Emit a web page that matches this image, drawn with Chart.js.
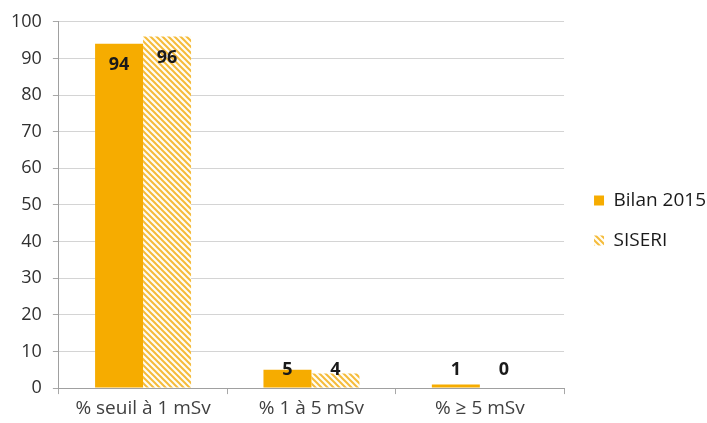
<!DOCTYPE html>
<html>
<head>
<meta charset="utf-8">
<script src="https://cdn.jsdelivr.net/npm/chart.js@4.4.0/dist/chart.umd.min.js"></script>
<style>
  html, body { margin: 0; padding: 0; background: #fff; }
  #wrap { width: 707px; height: 423px; }
</style>
</head>
<body>
<div id="wrap"><canvas id="myChart" width="707" height="423"></canvas></div>
<script>
  // categories and values
  var categories = ["% seuil à 1 mSv", "% 1 à 5 mSv", "% ≥ 5 mSv"];
  var bilan = [94, 5, 1];
  var siseri = [96, 4, 0];
  var seriesNames = ["Bilan 2015", "SISERI"];
  var yTicks = [0, 10, 20, 30, 40, 50, 60, 70, 80, 90, 100];

  var orange = "#F6AC00";

  // diagonal hatch for the second series
  function hatch() {
    var c = document.createElement("canvas");
    c.width = 6; c.height = 6;
    var g = c.getContext("2d");
    g.fillStyle = "#fffdf5";
    g.fillRect(0, 0, 6, 6);
    g.strokeStyle = "#F5BB3a";
    g.lineWidth = 2;
    g.beginPath();
    g.moveTo(-1, -1); g.lineTo(7, 7);
    g.moveTo(-4, 2); g.lineTo(2, 8);
    g.moveTo(2, -4); g.lineTo(8, 2);
    g.stroke();
    return g.createPattern(c, "repeat");
  }

  var font = "'Open Sans', sans-serif";

  // value labels inside the bar end, kept above the axis for short bars
  var valueLabels = {
    id: "valueLabels",
    afterDatasetsDraw: function(chart) {
      var ctx = chart.ctx;
      ctx.save();
      ctx.font = "bold 18px " + font;
      ctx.fillStyle = "#1a1a1a";
      ctx.textAlign = "center";
      ctx.textBaseline = "middle";
      chart.data.datasets.forEach(function(ds, i) {
        chart.getDatasetMeta(i).data.forEach(function(bar, j) {
          var y = Math.min(bar.y + 21, bar.base - 18);
          ctx.fillText(ds.data[j], bar.x, y);
        });
      });
      ctx.restore();
    }
  };

  // nudge the legend a little further right, away from the plot
  var legendShift = {
    id: "legendShift",
    afterLayout: function(chart) {
      if (chart.legend) {
        chart.legend.left += 9;
        chart.legend.right += 9;
      }
    }
  };

  var data = {
    labels: categories,
    datasets: [{
      label: seriesNames[0],
      data: bilan,
      backgroundColor: orange
    }, {
      label: seriesNames[1],
      data: siseri,
      backgroundColor: hatch()
    }]
  };

  const config = {
    type: "bar",
    data: data,
    options: {
      responsive: false,
      animation: false,
      layout: { padding: { top: 18, right: 0, left: 0, bottom: 0 } },
      datasets: { bar: { categoryPercentage: 0.57, barPercentage: 1.0 } },
      plugins: {
        tooltip: { enabled: false },
        legend: {
          position: "right",
          labels: {
            boxWidth: 10,
            boxHeight: 10,
            padding: 21,
            color: "#1a1a1a",
            font: { family: font, size: 19 }
          }
        }
      },
      scales: {
        x: {
          grid: { drawOnChartArea: false, drawTicks: true, tickLength: 6, color: "#a8a8a8", offset: true },
          border: { color: "#a0a0a0" },
          ticks: { color: "#404040", font: { family: font, size: 19, lineHeight: 1.1 }, padding: 4 }
        },
        y: {
          min: 0,
          max: 100,
          afterBuildTicks: function(axis) {
            axis.ticks = yTicks.map(function(v) { return { value: v }; });
          },
          grid: { color: "#d4d4d4", tickLength: 6, tickColor: "#a8a8a8" },
          border: { color: "#a0a0a0" },
          ticks: { color: "#303030", font: { family: font, size: 18 }, padding: 11 }
        }
      }
    },
    plugins: [valueLabels, legendShift]
  };

  var myChart = new Chart(document.getElementById("myChart"), config);
</script>
</body>
</html>
